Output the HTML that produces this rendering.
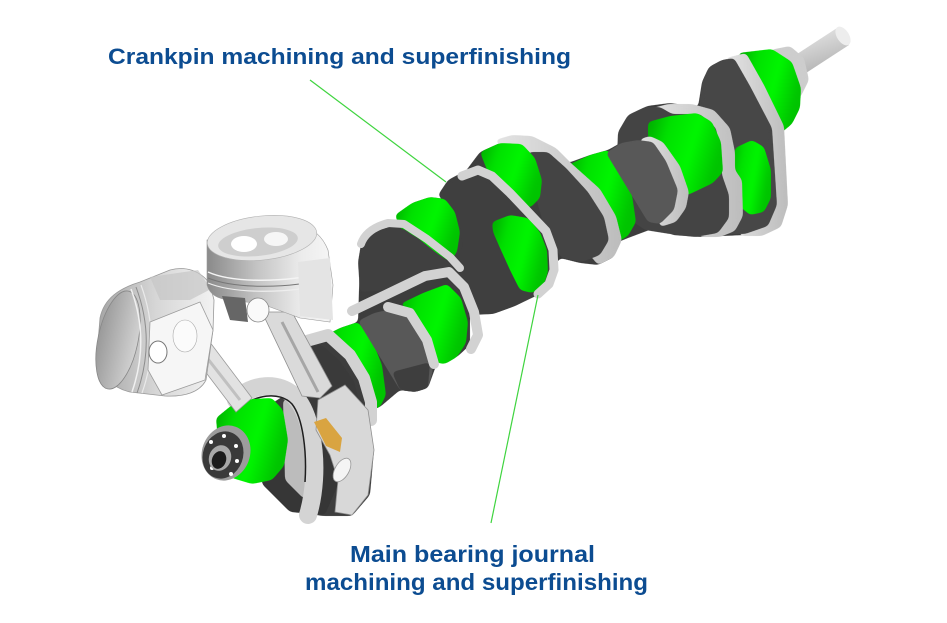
<!DOCTYPE html>
<html><head><meta charset="utf-8"><style>
html,body{margin:0;padding:0;background:#fff;}
svg{display:block;}
</style></head><body>
<svg width="947" height="623" viewBox="0 0 947 623" xmlns="http://www.w3.org/2000/svg">
<defs>
 <linearGradient id="g" x1="0" y1="0" x2="1" y2="0.35">
  <stop offset="0" stop-color="#00a400"/><stop offset="0.3" stop-color="#00e000"/><stop offset="0.65" stop-color="#00f600"/><stop offset="1" stop-color="#00c400"/>
 </linearGradient>
 <linearGradient id="r" x1="0" y1="0" x2="1" y2="0"><stop offset="0" stop-color="#e4e4e4"/><stop offset="1" stop-color="#bcbcbc"/></linearGradient>
 <linearGradient id="sh" x1="0" y1="0" x2="0.4" y2="1"><stop offset="0" stop-color="#ececec"/><stop offset="1" stop-color="#b4b4b4"/></linearGradient>
 <linearGradient id="p1" x1="0" y1="0" x2="1" y2="0"><stop offset="0" stop-color="#a4a4a4"/><stop offset="0.5" stop-color="#d6d6d6"/><stop offset="1" stop-color="#f2f2f2"/></linearGradient>
 <linearGradient id="p1c" x1="0" y1="0" x2="1" y2="0"><stop offset="0" stop-color="#9a9a9a"/><stop offset="1" stop-color="#d2d2d2"/></linearGradient>
 <linearGradient id="p2" x1="0" y1="0" x2="1" y2="0"><stop offset="0" stop-color="#8a8a8a"/><stop offset="0.4" stop-color="#c4c4c4"/><stop offset="0.75" stop-color="#ececec"/><stop offset="1" stop-color="#f6f6f6"/></linearGradient>
 <filter id="sm" x="-10%" y="-10%" width="120%" height="120%" color-interpolation-filters="sRGB">
  <feGaussianBlur stdDeviation="2.4"/>
  <feComponentTransfer><feFuncA type="linear" slope="10" intercept="-4.5"/></feComponentTransfer>
 </filter>
</defs>

<!-- base dark silhouette -->
<polygon filter="url(#sm)" fill="#3d3d3d" points="300,352 322,338 340,328 358,322 360,258 362,243 374,232 392,226 412,203 430,197 445,199 448,182 465,172 480,152 500,143 512,137 532,137 556,149 568,163 590,155 608,150 622,142 628,116 647,106 670,103 698,107 702,82 709,67 722,60 735,58 745,53 772,128 778,205 768,228 745,235 700,237 672,235 660,226 628,238 616,243 614,257 598,265 580,263 560,258 548,275 540,294 515,306 493,314 470,315 470,345 457,357 437,363 428,388 415,392 400,390 380,407 372,410 362,420 374,450 370,495 352,516 322,516 290,510 262,484 262,410 300,385"/>

<!-- nose shaft -->
<polygon fill="url(#sh)" points="794,56 837,28 849,45 806,73"/>
<ellipse cx="843" cy="36" rx="6" ry="10.5" transform="rotate(-33 843 36)" fill="#ededed"/>
<polygon filter="url(#sm)" fill="#cdcdcd" points="770,50 790,46 804,58 809,80 800,98 786,96 778,78"/>

<!-- J1 -->
<polygon filter="url(#sm)" fill="url(#g)" points="738,53 772,49 792,62 801,88 800,108 792,124 781,133 768,125 755,100 745,75"/>
<!-- web1 -->
<polygon filter="url(#sm)" fill="url(#r)" points="726,58 746,53 764,85 784,126 788,205 781,227 762,236 740,236"/>
<polygon filter="url(#sm)" fill="#474747" points="700,100 702,82 709,67 722,60 734,58 750,86 772,128 777,205 768,226 745,234 700,234 686,214 690,180 699,150"/>
<!-- crankpin 4 -->
<polygon filter="url(#sm)" fill="url(#g)" points="735,148 752,140 764,147 771,170 771,198 764,212 750,215 738,205 732,178"/>
<!-- web2 -->
<polygon filter="url(#sm)" fill="url(#r)" points="645,110 668,104 692,104 714,110 730,128 735,152 735,170 742,180 743,216 735,231 720,237 700,237"/>
<polygon filter="url(#sm)" fill="#444" points="618,132 628,115 645,107 660,107 672,114 700,114 716,128 721,155 722,175 729,195 729,218 718,233 695,237 670,234 645,230 628,218 616,180"/>
<!-- J2 -->
<polygon filter="url(#sm)" fill="url(#g)" points="648,122 670,116 697,113 712,122 721,142 723,172 713,183 690,194 680,197 672,172 660,150 648,138"/>
<!-- web3 rim -->
<polygon filter="url(#sm)" fill="url(#r)" points="640,139 650,136 663,142 680,166 689,192 686,208 676,222 660,227 655,200"/>
<!-- J3 -->
<polygon filter="url(#sm)" fill="url(#g)" points="568,165 590,155 608,150 622,168 632,195 636,222 628,236 616,243 605,222 592,197 578,177"/>
<!-- web3 face -->
<polygon filter="url(#sm)" fill="#585858" points="606,153 621,143 638,140 653,142 666,161 678,190 674,210 660,224 648,222"/>
<!-- web4 (WC) -->
<polygon filter="url(#sm)" fill="url(#r)" points="495,140 512,135 532,136 556,148 572,164 600,189 616,216 622,240 614,257 598,265"/>
<polygon filter="url(#sm)" fill="#444" points="528,152 548,152 566,168 588,192 604,217 609,240 600,255 582,262 562,258 548,240 538,205 530,175"/>
<!-- G5 -->
<polygon filter="url(#sm)" fill="url(#g)" points="480,152 500,143 522,144 535,158 542,180 540,198 530,208 515,200 500,185 487,170"/>
<!-- WB face -->
<polygon filter="url(#sm)" fill="#3f3f3f" points="438,195 448,180 465,171 488,178 508,195 530,217 548,238 555,258 552,280 538,294 515,306 493,314 468,314 455,300 452,275 458,245 455,215"/>
<!-- G6 -->
<polygon filter="url(#sm)" fill="url(#g)" points="492,222 510,215 528,218 540,232 547,250 548,272 543,287 532,293 520,290 510,270 500,248 493,232"/>
<path d="M462,176 L478,170 L492,176 L510,193 L529,213 L546,231 L553,250 L554,270 L549,284 L538,294" fill="none" stroke="#d2d2d2" stroke-width="9" stroke-linejoin="round" stroke-linecap="round"/>
<!-- G7 -->
<polygon filter="url(#sm)" fill="url(#g)" points="395,215 412,203 430,197 445,199 455,212 460,232 457,252 450,262 435,252 418,238 400,228"/>
<!-- W_L -->
<polygon filter="url(#sm)" fill="#404040" points="358,262 361,244 372,232 390,227 404,229 425,244 448,262 455,270 445,276 420,280 390,290 360,292"/>
<path d="M361,244 Q366,229 388,223 L404,224 L427,239 L450,257 L460,268" fill="none" stroke="#d2d2d2" stroke-width="8" stroke-linejoin="round" stroke-linecap="round"/>
<!-- G8 -->
<path d="M352,311 L375,300 L400,288 L425,276 L449,272 L464,287 L474,312 L478,335 L471,349" fill="none" stroke="#d2d2d2" stroke-width="10" stroke-linejoin="round" stroke-linecap="round"/>
<polygon filter="url(#sm)" fill="url(#g)" points="400,304 423,293 447,284 461,298 468,322 466,343 457,357 445,364 437,363 430,343 420,323 407,309"/>
<!-- G9 -->
<polygon filter="url(#sm)" fill="url(#g)" points="322,337 340,328 358,322 372,340 382,365 386,395 380,407 372,410 365,378 352,357 335,345"/>
<polygon filter="url(#sm)" fill="#585858" points="358,321 374,313 392,309 410,318 427,345 433,370 428,388 415,392 400,390"/>
<polygon filter="url(#sm)" fill="#3e3e3e" points="392,372 430,362 428,388 415,392 400,390"/>
<path d="M388,307 L410,313 L427,340 L434,364" fill="none" stroke="#d2d2d2" stroke-width="10" stroke-linejoin="round" stroke-linecap="round"/>
<path d="M303,342 L328,335 L350,355 L364,378 L371,402 L371,420" fill="none" stroke="#d2d2d2" stroke-width="12" stroke-linejoin="round" stroke-linecap="round"/>
<!-- front web face -->
<polygon filter="url(#sm)" fill="#3a3a3a" points="296,372 300,354 310,346 322,345 340,361 354,381 360,405 359,425 345,440 320,440 300,420"/>
<polygon filter="url(#sm)" fill="#363636" points="262,420 300,400 330,430 340,480 325,515 290,512 262,484"/>

<!-- big end ring + main1 -->
<polygon filter="url(#sm)" fill="#bcbcbc" points="283,400 300,395 312,420 314,470 305,500 285,480"/>
<path d="M236,400 C250,384 280,380 296,398 C310,414 316,450 314,480 C313,495 311,505 308,515" fill="none" stroke="#d4d4d4" stroke-width="18" stroke-linecap="round"/>
<path d="M238,410 C254,394 280,391 292,404 C303,418 307,452 305,482" fill="none" stroke="#1e1e1e" stroke-width="1.5"/>
<polygon filter="url(#sm)" fill="url(#g)" points="216,418 232,405 252,399 272,398 283,410 288,440 284,466 272,480 252,484 232,478 220,465"/>
<!-- pulley -->
<ellipse cx="226" cy="453" rx="24" ry="28" transform="rotate(20 226 453)" fill="#9c9c9c"/>
<ellipse cx="223" cy="455" rx="20" ry="24" transform="rotate(20 223 455)" fill="#3a3a3a"/>
<circle cx="211" cy="442" r="2" fill="#fff"/><circle cx="224" cy="436" r="2" fill="#fff"/>
<circle cx="236" cy="446" r="2" fill="#fff"/><circle cx="237" cy="461" r="2" fill="#fff"/>
<circle cx="231" cy="474" r="2" fill="#fff"/><circle cx="212" cy="468" r="2" fill="#fff"/>
<ellipse cx="220" cy="458" rx="11" ry="13" transform="rotate(20 220 458)" fill="#a8a8a8"/>
<ellipse cx="219" cy="460" rx="7" ry="9" transform="rotate(20 219 460)" fill="#1c1c1c"/>

<!-- rod R + cap -->
<polygon fill="#dadada" stroke="#8f8f8f" stroke-width="0.8" points="262,312 292,312 332,386 320,398 302,396"/>
<path d="M282,322 L318,392" stroke="#a6a6a6" stroke-width="3"/>
<polygon fill="#d8d8d8" stroke="#8f8f8f" stroke-width="0.8" points="318,400 345,385 368,410 374,450 368,495 352,515 335,512 338,480 330,455 316,430"/>
<polygon fill="#d9a441" points="314,422 326,418 342,438 340,452 326,446"/>
<ellipse cx="342" cy="470" rx="13" ry="7" transform="rotate(-60 342 470)" fill="#f4f4f4" stroke="#999" stroke-width="0.8"/>
<!-- rod L -->
<polygon fill="#e2e2e2" stroke="#9a9a9a" stroke-width="0.8" points="185,345 203,333 252,398 236,412"/>
<path d="M197,345 L240,400" stroke="#c0c0c0" stroke-width="3"/>

<!-- piston 1 -->
<path d="M100,318 C104,298 120,288 140,282 L170,270 C185,266 200,270 210,284 L214,300 L213,330 L206,380 C200,392 185,397 165,396 L130,392 C112,388 100,375 97,355 Z" fill="url(#p1)" stroke="#999" stroke-width="0.8"/>
<ellipse cx="118" cy="340" rx="20" ry="50" transform="rotate(12 118 340)" fill="url(#p1c)" stroke="#888" stroke-width="0.8"/>
<path d="M131,289 Q150,340 132,392" fill="none" stroke="#f0f0f0" stroke-width="1.5"/>
<path d="M136,287 Q156,340 137,393" fill="none" stroke="#8c8c8c" stroke-width="1"/>
<path d="M141,285 Q161,340 142,393" fill="none" stroke="#eaeaea" stroke-width="1.2"/>
<polygon fill="#c6c6c6" opacity="0.7" points="150,277 198,270 211,289 190,300 160,300"/>
<path d="M150,322 L200,302 L213,330 L205,380 L162,395 L148,370 Z" fill="#f6f6f6" stroke="#9c9c9c" stroke-width="0.8"/>
<ellipse cx="158" cy="352" rx="9" ry="11" fill="#fff" stroke="#777" stroke-width="1"/>
<ellipse cx="185" cy="336" rx="12" ry="16" fill="#fbfbfb" stroke="#aaa" stroke-width="0.6"/>

<!-- piston 2 -->
<path d="M207,240 L207,285 C210,295 218,299 230,300 L262,304 L300,318 L330,322 L333,285 L328,250 C322,235 312,228 300,226 Z" fill="url(#p2)" stroke="#999" stroke-width="0.6"/>
<ellipse cx="262" cy="238" rx="55" ry="22" transform="rotate(-6 262 238)" fill="#e6e6e6" stroke="#b0b0b0" stroke-width="0.6"/>
<ellipse cx="258" cy="242" rx="40" ry="14" transform="rotate(-6 258 242)" fill="#cecece"/>
<ellipse cx="244" cy="244" rx="13" ry="8" fill="#fff"/>
<ellipse cx="276" cy="239" rx="12" ry="7" fill="#f6f6f6"/>
<path d="M208,272 C230,282 280,284 329,272" fill="none" stroke="#f4f4f4" stroke-width="1.5"/>
<path d="M208,278 C232,288 285,290 330,278" fill="none" stroke="#777" stroke-width="1"/>
<path d="M208,283 C232,293 285,295 331,283" fill="none" stroke="#eee" stroke-width="1.2"/>
<polygon fill="#e4e4e4" points="298,262 330,258 333,320 300,316"/>
<polygon fill="#666" points="222,296 245,298 248,322 230,320"/>
<ellipse cx="258" cy="310" rx="11" ry="12" fill="#fafafa" stroke="#888" stroke-width="0.8"/>

<!-- leader lines -->
<line x1="310" y1="80" x2="446" y2="182" stroke="#3fd43f" stroke-width="1.2"/>
<line x1="538" y1="295" x2="491" y2="523" stroke="#3fd43f" stroke-width="1.2"/>

<!-- labels -->
<g font-family="Liberation Sans, Arial, sans-serif" font-weight="bold" fill="#0c4c91">
<text x="108" y="64" font-size="22.5" textLength="463" lengthAdjust="spacingAndGlyphs">Crankpin machining and superfinishing</text>
<text x="350" y="562" font-size="23" textLength="245" lengthAdjust="spacingAndGlyphs">Main bearing journal</text>
<text x="305" y="590" font-size="23" textLength="343" lengthAdjust="spacingAndGlyphs">machining and superfinishing</text>
</g>
</svg>
</body></html>
